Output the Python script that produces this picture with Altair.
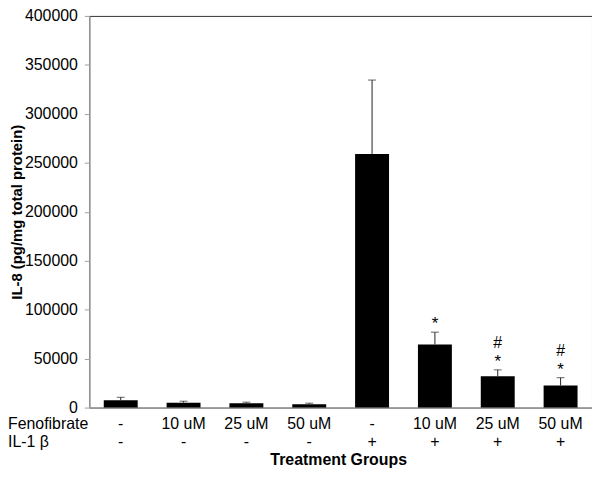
import altair as alt
import pandas as pd

groups = ["g1", "g2", "g3", "g4", "g5", "g6", "g7", "g8"]
fenofibrate = ["-", "10 uM", "25 uM", "50 uM", "-", "10 uM", "25 uM", "50 uM"]
il1b = ["-", "-", "-", "-", "+", "+", "+", "+"]
means = [7500, 5000, 4500, 3500, 259000, 64500, 32000, 22500]
errors = [3000, 1500, 1000, 1000, 75500, 12500, 6500, 8000]
star = ["", "", "", "", "", "*", "*", "*"]
hashmark = ["", "", "", "", "", "", "#", "#"]
y_ticks = [0, 50000, 100000, 150000, 200000, 250000, 300000, 350000, 400000]

df = pd.DataFrame({
    "group": groups,
    "feno": fenofibrate,
    "il1b": il1b,
    "mean": means,
    "err": errors,
    "star": star,
    "hash": hashmark,
})
df["upper"] = df["mean"] + df["err"]

FONT = "Liberation Sans"
H = 395

x = alt.X("group:N", sort=groups,
          scale=alt.Scale(paddingInner=0.46, paddingOuter=0.23),
          axis=alt.Axis(labels=False, ticks=False, domainColor="#a0a0a0",
                        title="Treatment Groups", titleFontSize=16,
                        titleFontWeight="bold", titleColor="black",
                        titleX=251, titleY=52, titleBaseline="middle"))
y = alt.Y("mean:Q", scale=alt.Scale(domain=[0, 400000]),
          axis=alt.Axis(values=y_ticks, format="d", grid=False,
                        domainColor="#a0a0a0", tickColor="#a0a0a0", tickSize=5,
                        labelFontSize=16, labelColor="black", labelPadding=7,
                        title="IL-8 (pg/mg total protein)", titleFontSize=15,
                        titleFontWeight="bold", titleColor="black",
                        titleX=-73, titleY=H / 2, titleBaseline="middle"))

base = alt.Chart(df)

bars = base.mark_bar(color="black").encode(x=x, y=y)

err_rule = base.mark_rule(color="#222222", strokeWidth=1).encode(
    x=alt.X("group:N", sort=groups), y="mean:Q", y2="upper:Q")
err_cap = base.mark_tick(color="#222222", thickness=1, size=8).encode(
    x=alt.X("group:N", sort=groups), y="upper:Q")

star_text = base.mark_text(font=FONT, fontSize=17, dy=-8, baseline="middle",
                           color="black").encode(
    x=alt.X("group:N", sort=groups), y="upper:Q", text="star:N")
hash_text = base.mark_text(font=FONT, fontSize=16, dy=-27, baseline="middle",
                           color="black").encode(
    x=alt.X("group:N", sort=groups), y="upper:Q", text="hash:N")

feno_text = base.mark_text(font=FONT, fontSize=16, baseline="middle",
                           color="black").encode(
    x=alt.X("group:N", sort=groups), y=alt.value(H + 17), text="feno:N")
il_text = base.mark_text(font=FONT, fontSize=16, baseline="middle",
                         color="black").encode(
    x=alt.X("group:N", sort=groups), y=alt.value(H + 35), text="il1b:N")

row_names = pd.DataFrame({"name": ["Fenofibrate", "IL-1 β"], "row": [0, 1]})
row_feno = alt.Chart(row_names[row_names.row == 0]).mark_text(
    font=FONT, fontSize=16, align="left", baseline="middle", color="black").encode(
    x=alt.value(-82), y=alt.value(H + 17), text="name:N")
row_il = alt.Chart(row_names[row_names.row == 1]).mark_text(
    font=FONT, fontSize=16, align="left", baseline="middle", color="black").encode(
    x=alt.value(-82), y=alt.value(H + 35), text="name:N")

chart = alt.layer(bars, err_rule, err_cap, star_text, hash_text,
                  feno_text, il_text, row_feno, row_il).properties(
    width=507, height=H,
    autosize=alt.AutoSizeParams(type="none"),
    padding={"left": 82, "top": 6, "right": 0, "bottom": 64},
).configure(font=FONT).configure_view(stroke="#333333", strokeWidth=1)

chart.save("out.html", embed_options={"renderer": "svg", "actions": False})
